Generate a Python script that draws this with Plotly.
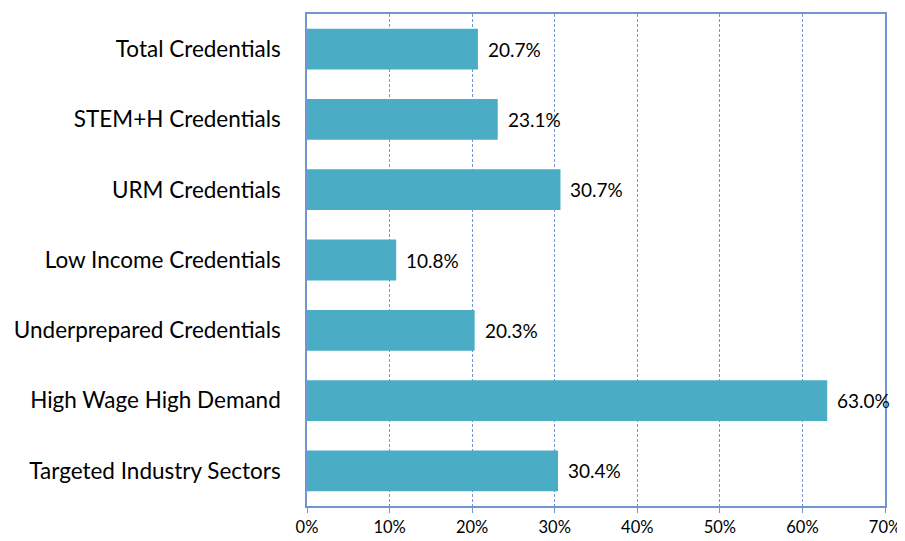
import plotly.graph_objects as go

categories = ["Total Credentials", "STEM+H Credentials", "URM Credentials",
              "Low Income Credentials", "Underprepared Credentials",
              "High Wage High Demand", "Targeted Industry Sectors"]
values = [0.207, 0.231, 0.307, 0.108, 0.203, 0.630, 0.304]
x_ticks = [0, 0.1, 0.2, 0.3, 0.4, 0.5, 0.6, 0.7]
x_tick_labels = ["0%", "10%", "20%", "30%", "40%", "50%", "60%", "70%"]

bar_color = "#4BACC6"
axis_color = "#6F96D1"
font_family = "Lato, 'Open Sans', sans-serif"

fig = go.Figure(go.Bar(
    y=categories, x=values, orientation="h",
    marker=dict(color=bar_color, line=dict(width=0)),
    hoverinfo="x+y",
))

for cat, v in zip(categories, values):
    fig.add_annotation(
        x=v, y=cat, xref="x", yref="y",
        text=f"{v*100:.1f}%", showarrow=False,
        xanchor="left", yanchor="middle", xshift=8,
        font=dict(size=19, color="#000000", family=font_family),
    )

# page body has an 8px default margin; compensate
fig.update_layout(
    width=897, height=533,
    margin=dict(l=299, r=20, t=4, b=33),
    paper_bgcolor="white", plot_bgcolor="white",
    bargap=0.42,
    showlegend=False,
    font=dict(family=font_family, color="#000000"),
)
fig.update_xaxes(
    range=[0, 0.7], tickvals=x_ticks, ticktext=x_tick_labels,
    tickfont=dict(size=16.5, color="#000000"),
    showgrid=True, gridcolor=axis_color, griddash="3px,2px", gridwidth=1,
    showline=True, linecolor=axis_color, linewidth=1.5, mirror=True,
    ticks="outside", ticklen=5, tickcolor=axis_color,
    zeroline=False, fixedrange=True,
)
fig.update_yaxes(
    categoryorder="array", categoryarray=categories, autorange="reversed",
    tickfont=dict(size=22.5, color="#000000"),
    showgrid=False,
    showline=True, linecolor=axis_color, linewidth=1.5, mirror=True,
    ticks="", ticklabelstandoff=20,
    fixedrange=True,
)

fig.write_html("out.html")
